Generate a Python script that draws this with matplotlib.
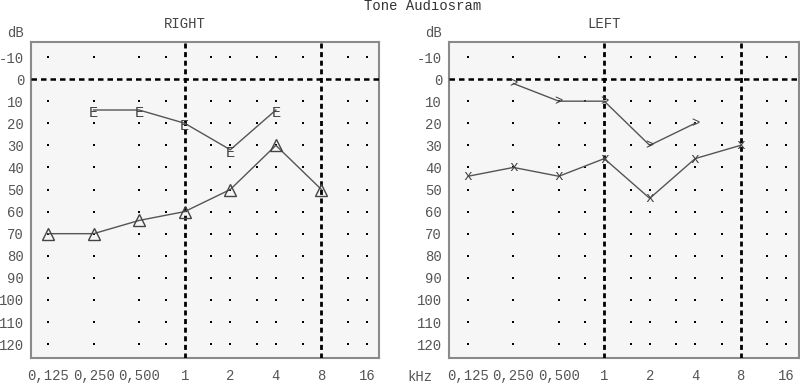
import numpy as np
import matplotlib
matplotlib.use("Agg")
import matplotlib.pyplot as plt

plt.rcParams['font.family'] = ['Liberation Mono', 'DejaVu Sans Mono']

# ---- data ----
title = "Tone Audiosram"
freq_ticks = [0.125, 0.25, 0.5, 1, 2, 4, 8, 16]
freq_tick_labels = ["0,125", "0,250", "0,500", "1", "2", "4", "8", "16"]
grid_freqs = [0.125, 0.25, 0.5, 0.75, 1.5, 2, 3, 4, 6, 12, 16]
db_ticks = [-10, 0, 10, 20, 30, 40, 50, 60, 70, 80, 90, 100, 110, 120]
dot_levels = [-10, 10, 20, 30, 40, 50, 60, 70, 80, 90, 100, 110, 120]

right_E_freq = [0.25, 0.5, 1, 2, 4]
right_E_db = [15, 15, 21, 33, 15]
right_tri_freq = [0.125, 0.25, 0.5, 1, 2, 4, 8]
right_tri_db = [70, 70, 64, 60, 50, 30, 50]

left_gt_freq = [0.25, 0.5, 1, 2, 4]
left_gt_db = [2, 10, 10, 30, 20]
left_x_freq = [0.125, 0.25, 0.5, 1, 2, 4, 8]
left_x_db = [44, 40, 44, 36, 54, 36, 30]

W, H = 800, 383
fig = plt.figure(figsize=(W / 100, H / 100), dpi=100)

def px_axes(x0, x1, ytop, ybot):
    return fig.add_axes([x0 / W, (H - ybot) / H, (x1 - x0) / W, (ybot - ytop) / H])

LINE = '#555555'
TXT = '#555555'
YTOP = -16.8

def setup(ax, xlim, name):
    ax.set_facecolor('#f6f6f6')
    ax.set_xlim(*xlim)
    ax.set_ylim(126.3, YTOP)
    for s in ax.spines.values():
        s.set_color('#8a8a8a')
        s.set_linewidth(1.5)
    # dotted grid points
    gx, gy = np.meshgrid(np.log2(grid_freqs), dot_levels)
    ax.plot(gx.ravel(), gy.ravel(), linestyle='none', marker='s', markersize=1.6,
            color='black', markeredgewidth=0, zorder=2)
    # reference lines
    ax.axhline(0, color='black', lw=1.8, linestyle=(0, (2.2, 1.6)), zorder=3)
    for f in (1, 8):
        ax.axvline(np.log2(f), color='black', lw=2.0, linestyle=(0, (1.8, 1.3)), zorder=3)
    ax.set_yticks(db_ticks)
    ax.set_yticklabels([str(v) for v in db_ticks])
    ax.set_xticks(np.log2(freq_ticks))
    ax.set_xticklabels(freq_tick_labels)
    ax.tick_params(axis='both', length=0, labelsize=10, labelcolor=TXT)
    ax.tick_params(axis='y', pad=5)
    ax.tick_params(axis='x', pad=8)
    ax.text(0, YTOP - 8.2, name, ha='center', va='center', fontsize=10, color='#444444')

# ---- right ear ----
axR = px_axes(31, 379, 42, 358)
setup(axR, (-3.373, 4.263), "RIGHT")
axR.plot(np.log2(right_E_freq), np.array(right_E_db) - 1, color=LINE, lw=1, zorder=4)
for f, d in zip(right_E_freq, right_E_db):
    axR.text(np.log2(f), d + 0.3, "E", ha='center', va='center', fontsize=11,
             color='#444444', zorder=5)
axR.plot(np.log2(right_tri_freq), right_tri_db, color=LINE, lw=1, marker='^',
         markersize=8, markerfacecolor='none', markeredgecolor='#444444',
         markeredgewidth=1, zorder=4)

# ---- left ear ----
axL = px_axes(449, 799, 42, 358)
setup(axL, (-3.418, 4.286), "LEFT")
axL.plot(np.log2(left_gt_freq), left_gt_db, color=LINE, lw=1, zorder=4)
for f, d in zip(left_gt_freq, left_gt_db):
    axL.text(np.log2(f), d, ">", ha='center', va='center', fontsize=10,
             color='#444444', zorder=5)
axL.plot(np.log2(left_x_freq), left_x_db, color=LINE, lw=1, zorder=4)
for f, d in zip(left_x_freq, left_x_db):
    axL.text(np.log2(f), d, "x", ha='center', va='center', fontsize=10.5,
             color='#444444', zorder=5)

# ---- figure texts ----
fig.text(423 / W, 1 - 6 / H, title, ha='center', va='center', fontsize=10, color='#333333')
fig.text(15 / W, 1 - 33 / H, "dB", ha='center', va='center', fontsize=10, color=TXT)
fig.text(434 / W, 1 - 33 / H, "dB", ha='center', va='center', fontsize=10, color=TXT)
fig.text(420 / W, 1 - 377 / H, "kHz", ha='center', va='center', fontsize=10, color=TXT)

fig.savefig("out.png", dpi=100)
